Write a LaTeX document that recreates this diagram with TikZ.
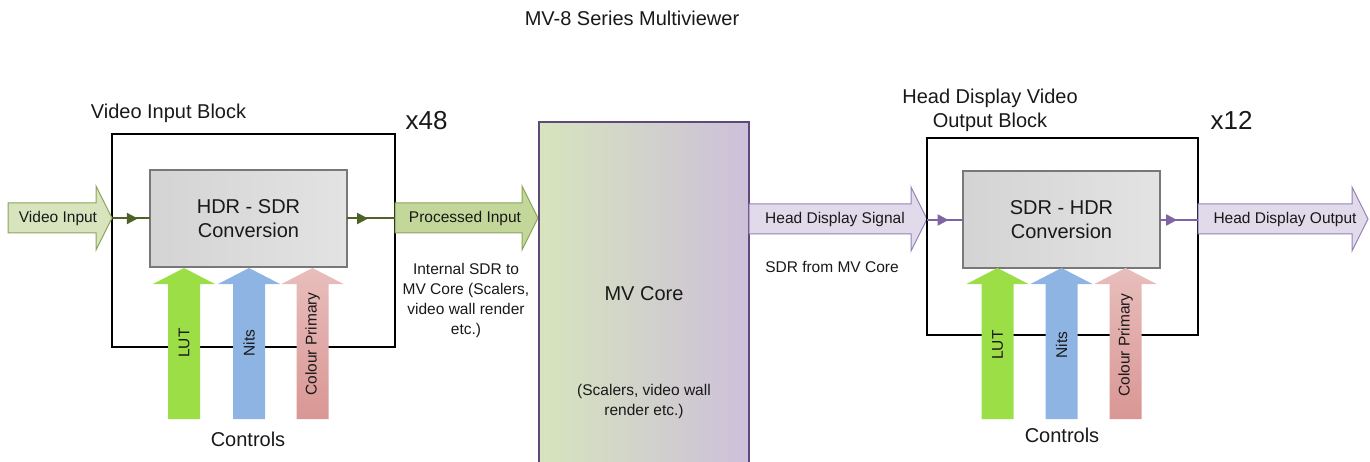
\documentclass[tikz,border=0pt]{standalone}
\usepackage{fontspec}
\setmainfont{Liberation Sans}
\usepackage{tikz}
\usetikzlibrary{calc,positioning}
\usetikzlibrary{arrows.meta}
\definecolor{vidgreen}{RGB}{215,228,189}
\definecolor{procgreen}{RGB}{196,215,155}
\definecolor{greenedge}{RGB}{140,165,90}
\definecolor{olive}{RGB}{79,98,40}
\definecolor{lilac}{RGB}{224,218,234}
\definecolor{corelilac}{RGB}{204,192,218}
\definecolor{lilacedge}{RGB}{150,130,185}
\definecolor{plum}{RGB}{128,100,162}
\definecolor{coreedge}{RGB}{95,73,122}
\definecolor{lutgreen}{RGB}{155,222,70}
\definecolor{nitsblue}{RGB}{141,180,227}
\definecolor{primred}{RGB}{217,150,148}
\definecolor{primpink}{RGB}{232,190,188}
\definecolor{boxedge}{RGB}{120,120,120}
\definecolor{ink}{RGB}{25,25,25}

\newcommand{\bigfont}{\fontsize{20}{24}\selectfont}
\newcommand{\smallfont}{\fontsize{15.5}{20}\selectfont}

% block arrow pointing right: style, x start, x tip, y centre
\newcommand{\harrow}[4]{%
  \draw[#1] (#2,#4+15) -- (#3-16,#4+15) -- (#3-16,#4+32) -- (#3,#4)
    -- (#3-16,#4-32) -- (#3-16,#4-15) -- (#2,#4-15) -- cycle;}
% block arrow pointing up: style, x centre, y tip, y bottom
\newcommand{\varrow}[4]{%
  \path[#1] (#2-16,#4) -- (#2-16,#3-16) -- (#2-31,#3-16) -- (#2,#3)
    -- (#2+31,#3-16) -- (#2+16,#3-16) -- (#2+16,#4) -- cycle;}

\begin{document}
\begin{tikzpicture}[x=1pt, y=1pt, text=ink,
  outerbox/.style={draw=black, line width=2pt, inner sep=0pt, outer sep=0pt},
  convbox/.style={draw=boxedge, line width=2pt, left color=black!17, right color=black!11,
    minimum width=197, minimum height=97, align=center, font=\bigfont, outer sep=0pt},
  lbl/.style={font=\bigfont, align=center},
  small/.style={font=\smallfont, align=center},
  ctl/.style={font=\smallfont, rotate=90},
  gline/.style={draw=olive, line width=2pt},
  pline/.style={draw=plum, line width=2pt},
  tip/.style={-{Triangle[length=11pt,width=11pt]}}]
\useasboundingbox (0,0) rectangle (1370,-462);

\node[lbl] (title) at (632,-18) {MV-8 Series Multiviewer};

% video input block
\node[lbl] (inlbl) at (168.5,-113) {Video Input Block};
\node[font=\fontsize{26}{28}\selectfont] (x48) at (426.5,-121) {x48};
\node[outerbox, minimum width=283, minimum height=213] (inblock) at (253.5,-240.5) {};
\node[convbox] (hdrsdr) at (248.5,-218.5) {HDR - SDR\\Conversion};

\harrow{fill=vidgreen, draw=greenedge, line width=1pt}{8}{112}{-218}
\node[small] (vidin) at (58,-218) {Video Input};
\harrow{fill=procgreen, draw=greenedge, line width=1pt}{395}{538}{-218}
\node[small] (procin) at (465,-218) {Processed Input};

\draw[gline] (inblock.west |- hdrsdr.west) -- (hdrsdr.west);
\draw[gline, tip] (inblock.west |- hdrsdr.west) -- ($(inblock.west |- hdrsdr.west)!0.68!(hdrsdr.west)$);
\draw[gline] (hdrsdr.east) -- (inblock.east |- hdrsdr.east);
\draw[gline, tip] (hdrsdr.east) -- ($(hdrsdr.east)!0.44!(inblock.east |- hdrsdr.east)$);

\node[small] (internal) at (466,-300) {Internal SDR to\\MV Core (Scalers,\\video wall render\\etc.)};

% controls into the input block
\varrow{fill=lutgreen}{184}{-268}{-419}
\varrow{fill=nitsblue}{249}{-268}{-419}
\varrow{top color=primpink, bottom color=primred}{312.5}{-268}{-419}
\node[ctl] (lut1) at (184,-343) {LUT};
\node[ctl] (nits1) at (249,-343) {Nits};
\node[ctl] (prim1) at (312.5,-344) {Colour Primary};
\node[lbl] (ctl1) at (248,-439) {Controls};

% core
\node[draw=coreedge, line width=1.5pt, left color=vidgreen, right color=corelilac,
  minimum width=210, minimum height=344, font=\bigfont, outer sep=0pt] (core) at (644,-294) {MV Core};
\node[small] (coresub) at (644,-401) {(Scalers, video wall\\render etc.)};

% head display output block
\harrow{fill=lilac, draw=lilacedge, line width=1pt}{749}{927}{-219}
\node[small] (hdsig) at (835,-219) {Head Display Signal};
\node[small] (sdrfrom) at (832,-267) {SDR from MV Core};

\node[lbl] (outlbl) at (990,-110) {Head Display Video\\Output Block};
\node[font=\fontsize{26}{28}\selectfont] (x12) at (1231.5,-120) {x12};
\node[outerbox, minimum width=271, minimum height=197] (outblock) at (1062.5,-236.5) {};
\node[convbox] (sdrhdr) at (1061.5,-220) {SDR - HDR\\Conversion};

\harrow{fill=lilac, draw=lilacedge, line width=1pt}{1198}{1368}{-219}
\node[small] (hdout) at (1285,-219) {Head Display Output};

\draw[pline] (outblock.west |- sdrhdr.west) -- (sdrhdr.west);
\draw[pline, tip] (outblock.west |- sdrhdr.west) -- ($(outblock.west |- sdrhdr.west)!0.6!(sdrhdr.west)$);
\draw[pline] (sdrhdr.east) -- (outblock.east |- sdrhdr.east);
\draw[pline, tip] (sdrhdr.east) -- ($(sdrhdr.east)!0.45!(outblock.east |- sdrhdr.east)$);

% controls into the output block
\varrow{fill=lutgreen}{997.5}{-268}{-419}
\varrow{fill=nitsblue}{1061.5}{-268}{-419}
\varrow{top color=primpink, bottom color=primred}{1125.5}{-268}{-419}
\node[ctl] (lut2) at (997.5,-345) {LUT};
\node[ctl] (nits2) at (1061.5,-345) {Nits};
\node[ctl] (prim2) at (1125.5,-345) {Colour Primary};
\node[lbl] (ctl2) at (1062,-435) {Controls};
\end{tikzpicture}
\end{document}
